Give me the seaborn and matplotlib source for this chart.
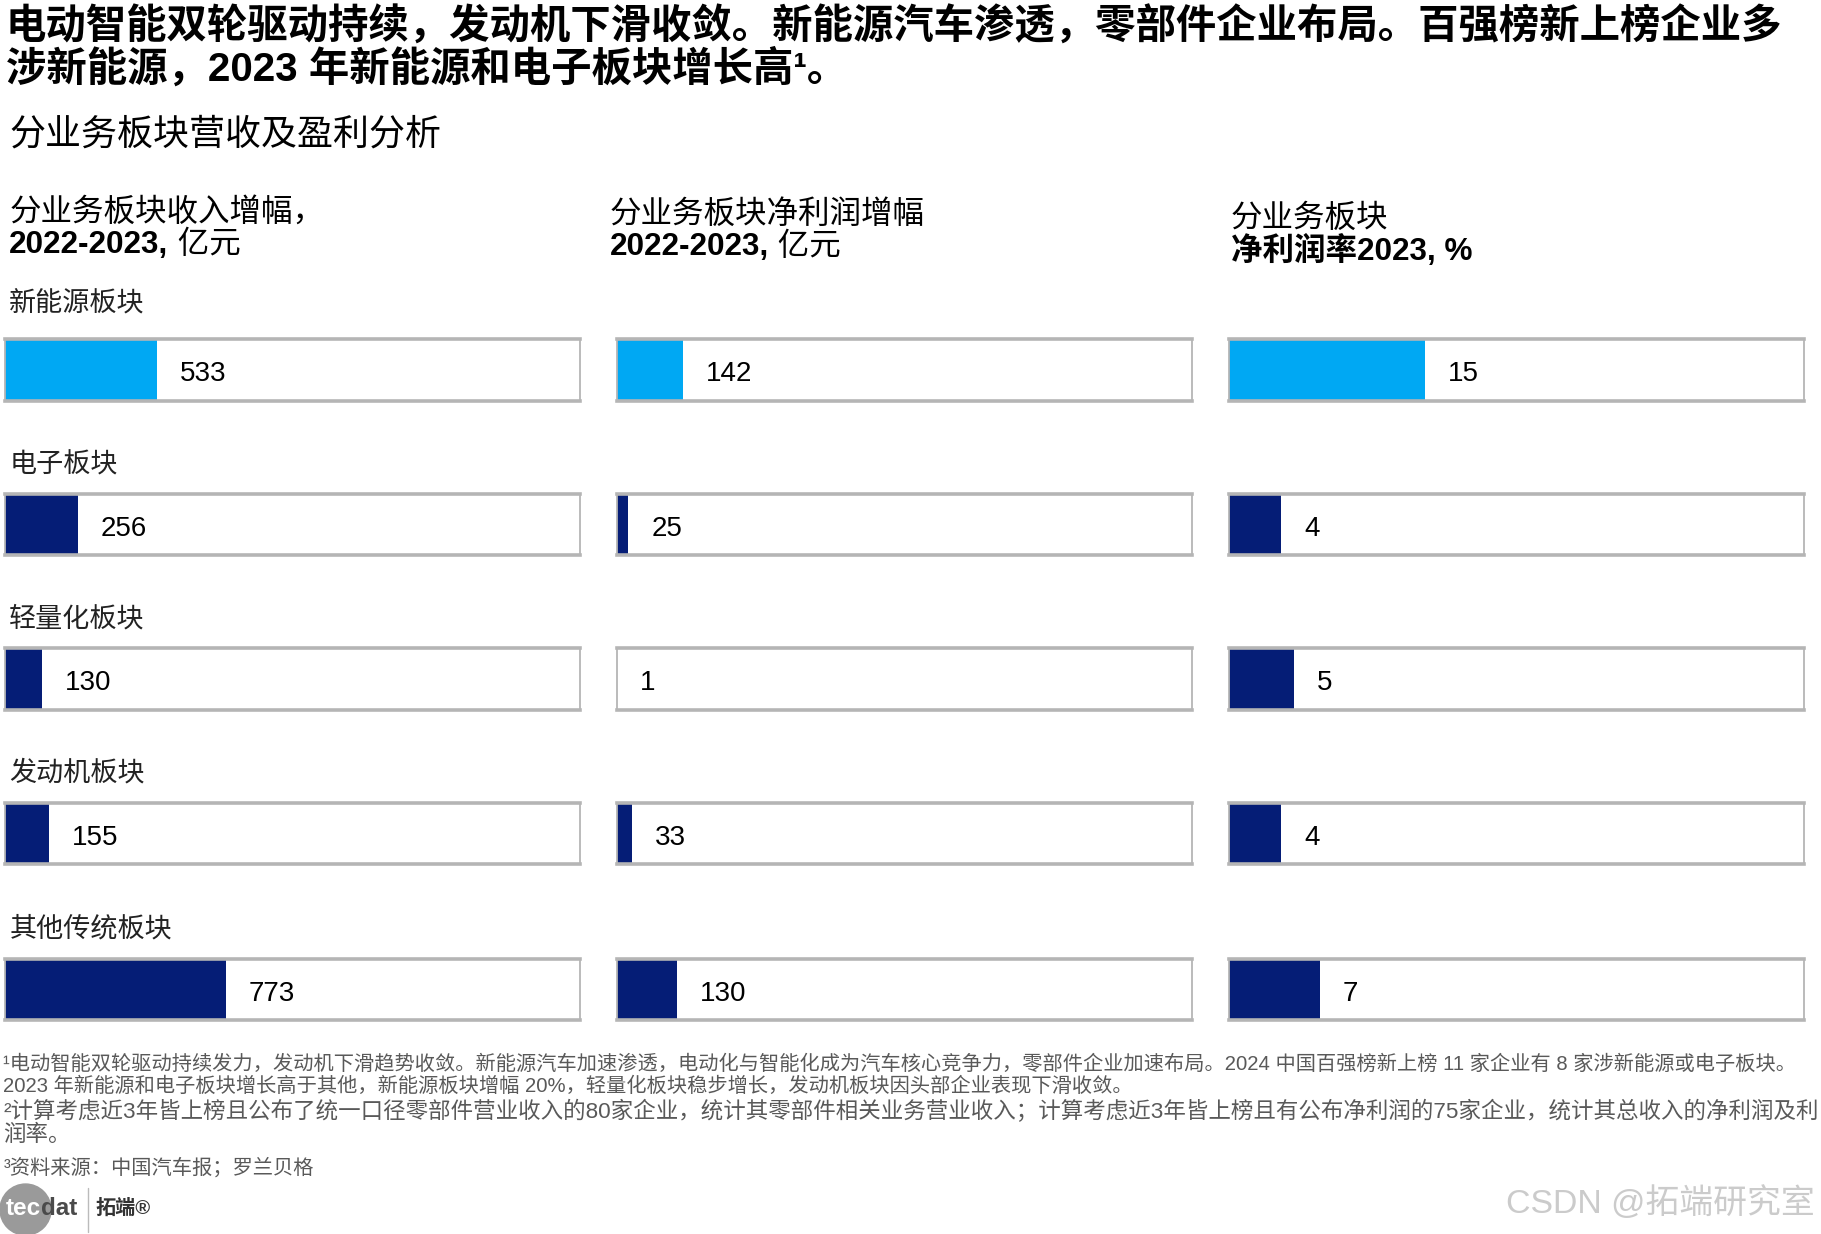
import matplotlib
matplotlib.use("Agg")
import matplotlib.pyplot as plt
import seaborn as sns
import pandas as pd
from matplotlib.patches import Ellipse
from matplotlib.lines import Line2D

sns.set_theme(style="white")
plt.rcParams["font.family"] = ["Liberation Sans", "Noto Sans CJK SC", "DejaVu Sans"]

# ---------------- data ----------------
categories = ["新能源板块", "电子板块", "轻量化板块", "发动机板块", "其他传统板块"]
revenue_growth = [533, 256, 130, 155, 773]      # 分业务板块收入增幅 2022-2023, 亿元
profit_growth = [142, 25, 1, 33, 130]           # 分业务板块净利润增幅 2022-2023, 亿元
profit_margin = [15, 4, 5, 4, 7]                # 分业务板块净利润率 2023, %
series = [revenue_growth, profit_growth, profit_margin]

header_line1 = ["分业务板块收入增幅，", "分业务板块净利润增幅", "分业务板块"]
header_line2_bold = ["2022-2023,", "2022-2023,", "净利润率2023, %"]
header_line2_normal = [" 亿元", " 亿元", ""]

title_lines = [
    "电动智能双轮驱动持续，发动机下滑收敛。新能源汽车渗透，零部件企业布局。百强榜新上榜企业多",
    "涉新能源，2023 年新能源和电子板块增长高¹。",
]
subtitle = "分业务板块营收及盈利分析"
footnotes = [
    "¹电动智能双轮驱动持续发力，发动机下滑趋势收敛。新能源汽车加速渗透，电动化与智能化成为汽车核心竞争力，零部件企业加速布局。2024 中国百强榜新上榜 11 家企业有 8 家涉新能源或电子板块。",
    "2023 年新能源和电子板块增长高于其他，新能源板块增幅 20%，轻量化板块稳步增长，发动机板块因头部企业表现下滑收敛。",
    "²计算考虑近3年皆上榜且公布了统一口径零部件营业收入的80家企业，统计其零部件相关业务营业收入；计算考虑近3年皆上榜且有公布净利润的75家企业，统计其总收入的净利润及利",
    "润率。",
    "³资料来源：中国汽车报；罗兰贝格",
]
footnote_sizes = [14.55, 14.55, 16.2, 16.2, 14.6]

LIGHT_BLUE = "#00A8F3"
NAVY = "#051D76"
row_colors = [LIGHT_BLUE, NAVY, NAVY, NAVY, NAVY]
palette = dict(zip(categories, row_colors))

# ---------------- layout (reference grid 1568 x 1062) ----------------
W, H = 1568.0, 1062.0
def fx(x): return x / W
def fy(y): return 1 - y / H

fig = plt.figure(figsize=(18.21, 12.34), dpi=100)
fig.patch.set_facecolor("white")
bg = fig.add_axes([0, 0, 1, 1])
bg.set_xlim(0, 1); bg.set_ylim(0, 1); bg.axis("off")

# title
fig.text(fx(5), fy(23), title_lines[0], fontsize=29.1, weight="bold", va="center", ha="left", color="black")
fig.text(fx(5), fy(59), title_lines[1], fontsize=29.1, weight="bold", va="center", ha="left", color="black")
fig.text(fx(8), fy(116), subtitle, fontsize=25.9, va="center", ha="left", color="black")

# column headers
col_left = [4, 531, 1058]
head_x = [8, 525, 1060]
head_y1 = [183, 185, 188]
head_y2 = [211, 213, 216]
for j in range(3):
    fig.text(fx(head_x[j]), fy(head_y1[j]), header_line1[j], fontsize=22.7, va="center", ha="left", color="black")
    t = fig.text(fx(head_x[j]), fy(head_y2[j]), header_line2_bold[j], fontsize=22.7, weight="bold",
                 va="center", ha="left", color="black")
    if header_line2_normal[j]:
        bg.annotate(header_line2_normal[j], xy=(1, 0.5), xycoords=t, fontsize=22.7, va="center",
                    ha="left", color="black")

# rows
row_top = [292, 425, 558, 691, 825]
label_y = [262, 401, 533, 666, 800]
box_w, box_h = 495, 53
xmax = [2010, 1230, 44]

df = pd.DataFrame({"category": categories,
                   "revenue": revenue_growth,
                   "profit": profit_growth,
                   "margin": profit_margin})
cols = ["revenue", "profit", "margin"]

for i, cat in enumerate(categories):
    fig.text(fx(8), fy(label_y[i]), cat, fontsize=19.5, va="center", ha="left", color="#222222")
    for j in range(3):
        ax = fig.add_axes([fx(col_left[j]), fy(row_top[i] + box_h), box_w / W, box_h / H])
        sub = df.iloc[[i]]
        sns.barplot(data=sub, x=cols[j], y="category", hue="category", palette=palette,
                    orient="h", width=1.0, legend=False, ax=ax, linewidth=0, saturation=1)
        ax.set_xlim(0, xmax[j])
        ax.set_ylim(0.5, -0.5)
        ax.set_xticks([]); ax.set_yticks([])
        ax.set_xlabel(""); ax.set_ylabel("")
        ax.set_facecolor("white")
        for side, sp in ax.spines.items():
            sp.set_visible(True)
            sp.set_color("#B5B5B5")
            sp.set_linewidth(2.6 if side in ("top", "bottom") else 1.3)
        v = series[j][i]
        ax.annotate(f"{v}", xy=(v, 0), xytext=(16.5, -3), textcoords="offset points",
                    va="center", ha="left", fontsize=20, color="black")

# footnotes
foot_y = [916, 935, 957, 977, 1005]
for y, txt, fs in zip(foot_y, footnotes, footnote_sizes):
    fig.text(fx(3), fy(y), txt, fontsize=fs, va="center", ha="left", color="#595959")

# logo
bg.add_patch(Ellipse((fx(22), fy(1041)), 44 / W, 44 / H, color="#9A9A9A", transform=fig.transFigure))
t_tec = fig.text(fx(5), fy(1040), "tec", fontsize=17.5, weight="bold", color="white", va="center", ha="left")
bg.annotate("dat", xy=(1, 0.5), xycoords=t_tec, fontsize=17.5, weight="bold", color="#4A4A4A",
            va="center", ha="left")
fig.add_artist(Line2D([fx(76), fx(76)], [fy(1022), fy(1060)], color="#BBBBBB", lw=1.0,
                      transform=fig.transFigure))
fig.text(fx(82), fy(1040), "拓端®", fontsize=14.5, weight="bold", color="#333333", va="center", ha="left")

# watermark
fig.text(fx(1297), fy(1035), "CSDN @拓端研究室", fontsize=24.4, color="#CBCBCB", va="center", ha="left")

fig.savefig("out.png", dpi=100, facecolor="white")
